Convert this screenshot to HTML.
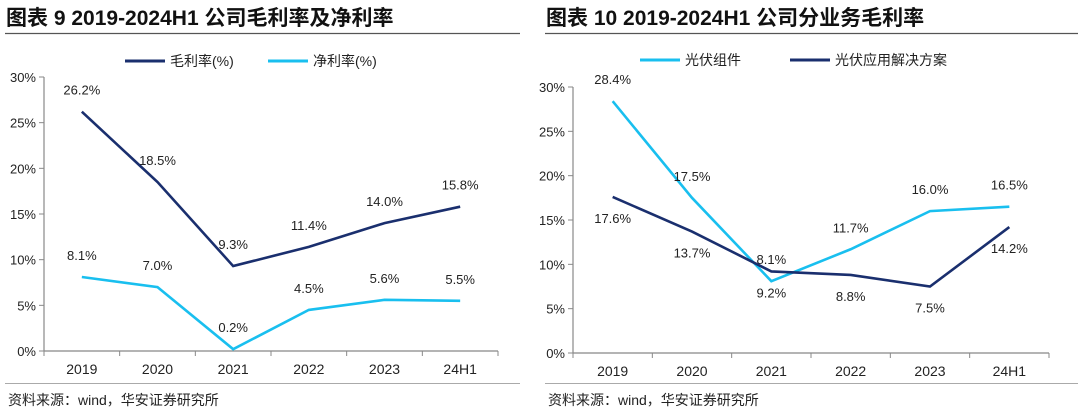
<!DOCTYPE html>
<html><head><meta charset="utf-8"><style>
body{margin:0;width:1080px;height:413px;background:#fff;overflow:hidden;font-family:"Liberation Sans","Noto Sans CJK SC",sans-serif}
svg{display:block}
</style></head><body>
<svg width="1080" height="413" id="s">
<text x="6" y="25" font-size="21" font-weight="bold" fill="#111" font-family="Liberation Sans,Noto Sans CJK SC,sans-serif">图表 9 2019-2024H1 公司毛利率及净利率</text>
<line x1="5" y1="33.5" x2="520" y2="33.5" stroke="#555" stroke-width="1.2"/>
<text x="546" y="25" font-size="21" font-weight="bold" fill="#111" font-family="Liberation Sans,Noto Sans CJK SC,sans-serif">图表 10 2019-2024H1 公司分业务毛利率</text>
<line x1="545" y1="33.5" x2="1078" y2="33.5" stroke="#555" stroke-width="1.2"/>
<line x1="5" y1="383.5" x2="520" y2="383.5" stroke="#aaa" stroke-width="1"/>
<line x1="545" y1="383.5" x2="1078" y2="383.5" stroke="#aaa" stroke-width="1"/>
<text x="8" y="405" font-size="14" fill="#222">资料来源：wind，华安证券研究所</text>
<text x="548" y="405" font-size="14" fill="#222">资料来源：wind，华安证券研究所</text>
<g id="c1"></g><g id="c2"></g>
</svg>
<script>
const categories=["2019","2020","2021","2022","2023","24H1"];
const yTicks=[0,5,10,15,20,25,30];
const grossMargin=[26.2,18.5,9.3,11.4,14.0,15.8];
const netMargin=[8.1,7.0,0.2,4.5,5.6,5.5];
const moduleMargin=[28.4,17.5,8.1,11.7,16.0,16.5];
const solutionMargin=[17.6,13.7,9.2,8.8,7.5,14.2];
const DARK="#1a2f6e",LIGHT="#19bfef",NS="http://www.w3.org/2000/svg";
function mk(p,tag,attrs,txt){const e=document.createElementNS(NS,tag);for(const k in attrs)e.setAttribute(k,attrs[k]);if(txt!=null)e.textContent=txt;p.appendChild(e);return e;}
function chart(g,cfg){
  const x0=cfg.x0,x1=cfg.x1,y0=cfg.y0,y1=cfg.y1;
  const bw=(x1-x0)/categories.length;
  const xs=i=>x0+bw*(i+0.5);
  const ys=v=>y0-(v/30)*(y0-y1);
  const ax=mk(g,'line',{x1:x0,y1:y1,x2:x0,y2:y0,stroke:'#888','stroke-width':1.2});
  
  const bx=mk(g,'line',{x1:x0,y1:y0,x2:x1,y2:y0,stroke:'#888','stroke-width':1.2});
  
  yTicks.forEach(t=>{
    mk(g,'line',{x1:x0-5,y1:ys(t),x2:x0,y2:ys(t),stroke:'#888'});
    const l=mk(g,'text',{x:x0-8,y:ys(t)+5,'font-size':13,'text-anchor':'end',fill:'#222'},t+'%');
    
  });
  for(let i=0;i<=categories.length;i++)mk(g,'line',{x1:x0+bw*i,y1:y0,x2:x0+bw*i,y2:y0+5,stroke:'#888'});
  categories.forEach((c,i)=>{
    const l=mk(g,'text',{x:xs(i),y:y0+23,'font-size':14,'text-anchor':'middle',fill:'#222'},c);
    
  });
  cfg.series.forEach(s=>{
    const pl=mk(g,'polyline',{points:s.data.map((v,i)=>xs(i)+','+ys(v)).join(' '),fill:'none',stroke:s.color,'stroke-width':2.6});
    
    s.data.forEach((v,i)=>{
      const off=s.pos[i]==='a'?-17:26;
      const t=mk(g,'text',{x:xs(i),y:ys(v)+off,'font-size':13,'text-anchor':'middle',fill:'#222'},v.toFixed(1)+'%');
      
    });
    const lg=mk(g,'line',{x1:s.lx,y1:cfg.ly,x2:s.lx+40,y2:cfg.ly,stroke:s.color,'stroke-width':3});
    
    const lt=mk(g,'text',{x:s.lx+45,y:cfg.ly+5,'font-size':14,fill:'#222'},s.label);
    
  });
}
chart(document.getElementById('c1'),{x0:44,x1:498,y0:351,y1:77,ly:61,series:[
  {name:'gross-margin',label:'毛利率(%)',data:grossMargin,color:DARK,lx:125,pos:['a','a','a','a','a','a']},
  {name:'net-margin',label:'净利率(%)',data:netMargin,color:LIGHT,lx:268,pos:['a','a','a','a','a','a']}]});
chart(document.getElementById('c2'),{x0:573,x1:1049,y0:353,y1:87,ly:60,series:[
  {name:'pv-module',label:'光伏组件',data:moduleMargin,color:LIGHT,lx:640,pos:['a','a','a','a','a','a']},
  {name:'pv-solution',label:'光伏应用解决方案',data:solutionMargin,color:DARK,lx:790,pos:['b','b','b','b','b','b']}]});
</script>
</body></html>
